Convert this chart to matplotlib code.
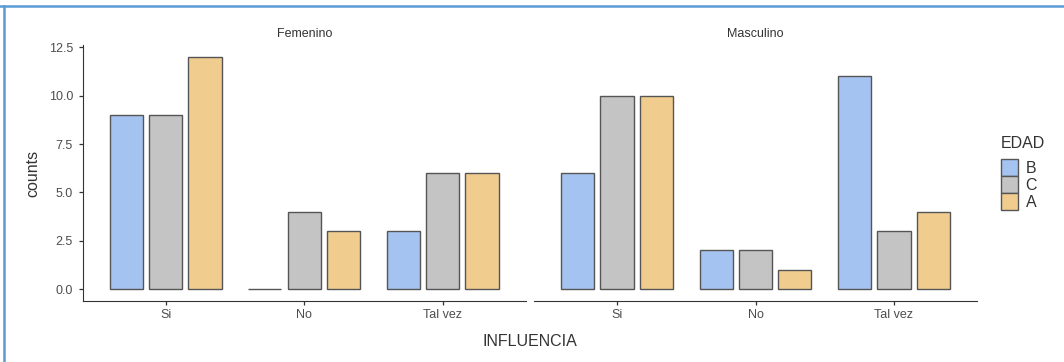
import matplotlib
matplotlib.use("Agg")
import matplotlib.pyplot as plt
from matplotlib.patches import Patch
from matplotlib.lines import Line2D
import numpy as np

plt.rcParams['font.family'] = ['Liberation Sans', 'DejaVu Sans']

# counts per influence answer, split by sex and age group
categories = ["Si", "No", "Tal vez"]
groups = ["B", "C", "A"]
sexes = ["Femenino", "Masculino"]
fem_B = [9, 0, 3]
fem_C = [9, 4, 6]
fem_A = [12, 3, 6]
masc_B = [6, 2, 11]
masc_C = [10, 2, 3]
masc_A = [10, 1, 4]
y_ticks = [0.0, 2.5, 5.0, 7.5, 10.0, 12.5]

colors = {"B": "#A4C3F0", "C": "#C4C4C4", "A": "#F0CD8E"}
edge = "#555555"
text_col = "#4d4d4d"
axis_col = "#333333"

data = {
    "Femenino": {"B": fem_B, "C": fem_C, "A": fem_A},
    "Masculino": {"B": masc_B, "C": masc_C, "A": masc_A},
}

fig = plt.figure(figsize=(10.64, 3.62), dpi=100)
bottom, height = 0.1693, 0.7052
panels = [fig.add_axes([0.0777, bottom, 0.4164, height]),
          fig.add_axes([0.5019, bottom, 0.4164, height])]

x = np.arange(len(categories))
bar_w = 0.24
step = 0.284

for i, (ax, sex) in enumerate(zip(panels, sexes)):
    for j, g in enumerate(groups):
        ax.bar(x + (j - 1) * step, data[sex][g], width=bar_w,
               color=colors[g], edgecolor=edge, linewidth=1.0, zorder=3)
    ax.set_xlim(-0.6, 2.6)
    ax.set_ylim(-0.6, 12.6)
    ax.set_xticks(x)
    ax.set_xticklabels(categories)
    for side in ["top", "right"]:
        ax.spines[side].set_visible(False)
    ax.spines["bottom"].set_color(axis_col)
    ax.spines["left"].set_color(axis_col)
    ax.tick_params(axis="x", length=3.2, width=0.9, color=axis_col,
                   labelsize=9, labelcolor=text_col, pad=2.5)
    ax.tick_params(axis="y", length=3.2, width=0.9, color=axis_col,
                   labelsize=9, labelcolor=text_col, pad=3.8)
    if i == 0:
        ax.set_yticks(y_ticks)
        ax.set_yticklabels([f"{v:.1f}" for v in y_ticks])
    else:
        ax.set_yticks([])
        ax.spines["left"].set_visible(False)
    pos = ax.get_position()
    fig.text(pos.x0 + pos.width / 2, 1 - 34 / 362, sex, ha="center",
             va="center", fontsize=9, color="#333333")

fig.text(33 / 1064, bottom + height / 2, "counts", rotation=90,
         ha="center", va="center", fontsize=11.5, color="#333333")
fig.text(530 / 1064, 1 - 341 / 362, "INFLUENCIA", ha="center",
         va="center", fontsize=11.5, color="#333333")

# legend: title placed separately so it sits a little above the keys
fig.text(1001 / 1064, 1 - 144 / 362, "EDAD", ha="left", va="center",
         fontsize=11.5, color="#333333")
handles = [Patch(facecolor=colors[g], edgecolor=edge, linewidth=1.0)
           for g in groups]
fig.legend(handles, groups, loc="upper left",
           bbox_to_anchor=(993 / 1064, 1 - 151 / 362), frameon=False,
           fontsize=11.5, handlelength=1.05, handleheight=1.25,
           labelspacing=0.0, handletextpad=0.5, borderpad=0.0,
           labelcolor="#333333")

# thin blue frame along the top and left edges
fig.add_artist(Line2D([0, 1], [1 - 5.5 / 362, 1 - 5.5 / 362],
                      color="#5B9BD5", linewidth=1.8, transform=fig.transFigure))
fig.add_artist(Line2D([3.5 / 1064, 3.5 / 1064], [0, 1 - 5.5 / 362],
                      color="#5B9BD5", linewidth=1.8, transform=fig.transFigure))

fig.savefig("out.png", dpi=100)
